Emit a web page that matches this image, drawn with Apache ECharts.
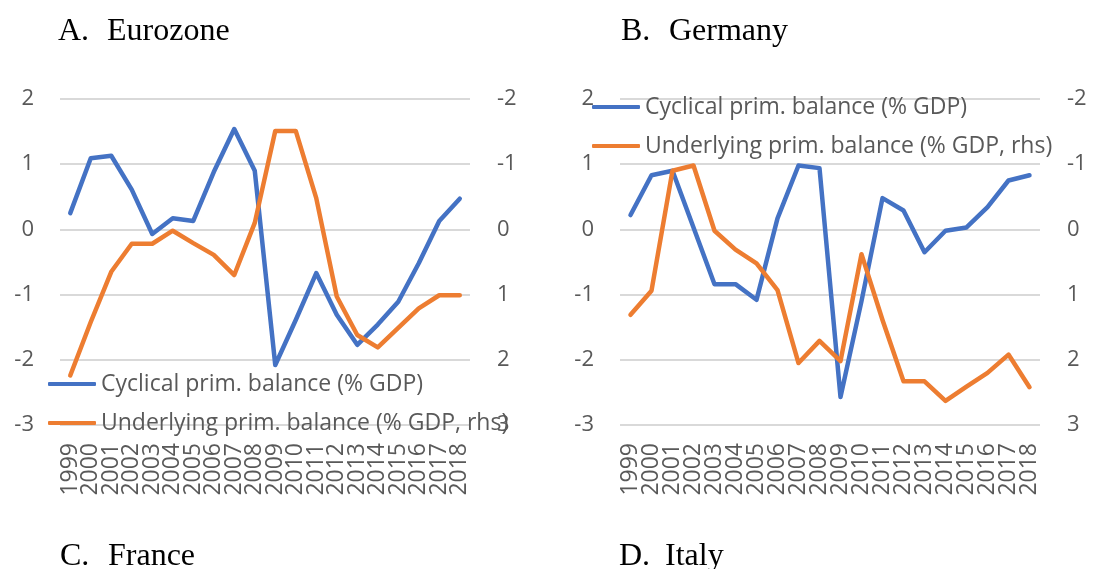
<!DOCTYPE html>
<html>
<head>
<meta charset="utf-8">
<title>Primary balance</title>
<script src="https://cdn.jsdelivr.net/npm/echarts@6/dist/echarts.min.js"></script>
<style>
    html, body { margin: 0; padding: 0; background: #fff; }
    .box { width: 1109px; height: 569px; }
</style>
</head>
<body>
<div class="box"></div>
<script>
// 年份
let years = ['1999', '2000', '2001', '2002', '2003', '2004', '2005', '2006', '2007', '2008',
    '2009', '2010', '2011', '2012', '2013', '2014', '2015', '2016', '2017', '2018'];
let seriesNames = ['Cyclical prim. balance (% GDP)', 'Underlying prim. balance (% GDP, rhs)'];

// A. Eurozone
let euroCyclical = [0.25, 1.09, 1.13, 0.61, -0.07, 0.17, 0.13, 0.88, 1.54, 0.90,
    -2.08, -1.39, -0.67, -1.31, -1.77, -1.46, -1.11, -0.52, 0.13, 0.47];
let euroUnderlying = [2.24, 1.42, 0.65, 0.22, 0.22, 0.02, 0.21, 0.39, 0.70, -0.10,
    -1.51, -1.51, -0.48, 1.03, 1.62, 1.81, 1.51, 1.21, 1.01, 1.01];

// B. Germany
let deCyclical = [0.22, 0.83, 0.90, 0.03, -0.84, -0.84, -1.08, 0.17, 0.98, 0.94,
    -2.57, -1.10, 0.48, 0.29, -0.35, -0.02, 0.03, 0.34, 0.75, 0.83];
let deUnderlying = [1.31, 0.94, -0.90, -0.98, 0.02, 0.31, 0.52, 0.93, 2.05, 1.71,
    2.02, 0.38, 1.39, 2.33, 2.33, 2.63, 2.41, 2.20, 1.92, 2.42];

// 轴刻度
let leftRange = [-3, 2];
let rightRange = [-2, 3];

let panelTitles = [
    ['A.', 'Eurozone'],
    ['B.', 'Germany'],
    ['C.', 'France'],
    ['D.', 'Italy']
];

window.addEventListener('load', function() {
    let myChart = echarts.init(document.querySelector('.box'));

    let sans = 'Open Sans';
    let grey = '#595959';
    let blue = '#4472c4';
    let orange = '#ed7d31';

    // 标题位置
    let titlePos = [[58, 107, 16], [621, 669, 16], [60, 108, 541], [619, 665, 541]];
    let titles = [];
    panelTitles.forEach(function(t, i) {
        let p = titlePos[i];
        titles.push({ text: t[0], left: p[0], top: p[2], padding: 0,
            textStyle: { fontFamily: 'Liberation Serif', fontSize: 32, fontWeight: 'normal', color: '#000' } });
        titles.push({ text: t[1], left: p[1], top: p[2], padding: 0,
            textStyle: { fontFamily: 'Liberation Serif', fontSize: 32, fontWeight: 'normal', color: '#000' } });
    });

    function legend(left, top) {
        return {
            orient: 'vertical',
            left: left,
            top: top,
            padding: 0,
            icon: 'roundRect',
            itemWidth: 48,
            itemHeight: 4,
            itemGap: 13,
            textStyle: { fontFamily: sans, fontSize: 23, color: grey, lineHeight: 26 },
            data: seriesNames
        };
    }

    function xAxis(gridIndex) {
        return {
            type: 'category',
            gridIndex: gridIndex,
            data: years,
            axisLine: { show: false },
            axisTick: { show: false },
            axisLabel: { rotate: 90, interval: 0, margin: 18, fontFamily: sans, fontSize: 23, color: grey }
        };
    }

    function yAxes(gridIndex) {
        return [{
            type: 'value',
            gridIndex: gridIndex,
            min: leftRange[0],
            max: leftRange[1],
            interval: 1,
            axisLine: { show: false },
            axisTick: { show: false },
            axisLabel: { margin: 26, fontFamily: sans, fontSize: 22, color: grey },
            splitLine: { lineStyle: { color: '#d9d9d9', width: 2 } }
        }, {
            type: 'value',
            gridIndex: gridIndex,
            position: 'right',
            inverse: true,
            min: rightRange[0],
            max: rightRange[1],
            interval: 1,
            axisLine: { show: false },
            axisTick: { show: false },
            axisLabel: { margin: 27, fontFamily: sans, fontSize: 22, color: grey },
            splitLine: { show: false }
        }];
    }

    function line(name, data, color, xi, yi) {
        return {
            name: name,
            type: 'line',
            xAxisIndex: xi,
            yAxisIndex: yi,
            data: data,
            symbol: 'none',
            color: color,
            lineStyle: { width: 4.5, color: color, cap: 'round', join: 'round' }
        };
    }

    let option = {
        animation: false,
        title: titles,
        legend: [legend(48, 371), legend(592, 94)],
        grid: [
            { left: 60, top: 99, width: 410, height: 326 },
            { left: 620, top: 99, width: 420, height: 326 }
        ],
        xAxis: [xAxis(0), xAxis(1)],
        yAxis: yAxes(0).concat(yAxes(1)),
        series: [
            line(seriesNames[0], euroCyclical, blue, 0, 0),
            line(seriesNames[1], euroUnderlying, orange, 0, 1),
            line(seriesNames[0], deCyclical, blue, 1, 2),
            line(seriesNames[1], deUnderlying, orange, 1, 3)
        ]
    };

    myChart.setOption(option);
});
</script>
</body>
</html>
